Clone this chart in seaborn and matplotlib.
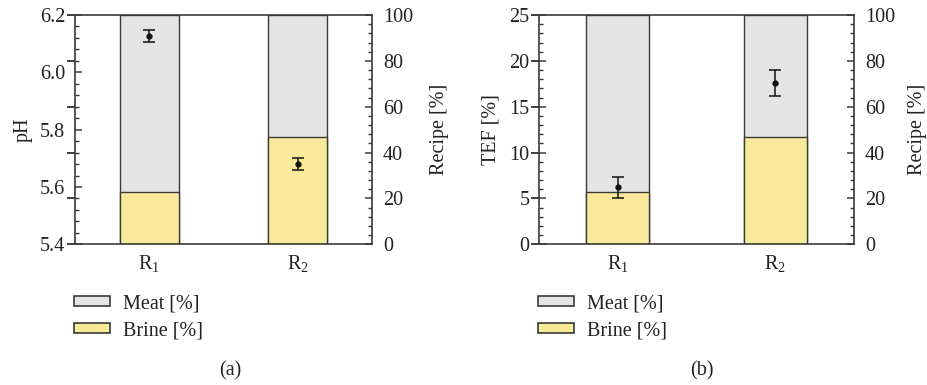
import matplotlib
matplotlib.use("Agg")
import matplotlib.pyplot as plt
import seaborn as sns
import pandas as pd
from matplotlib.ticker import MultipleLocator
from matplotlib.patches import Patch

sns.set_theme(style="white")
plt.rcParams['font.family'] = ['Liberation Serif', 'DejaVu Serif']
plt.rcParams['mathtext.fontset'] = 'custom'
plt.rcParams['mathtext.rm'] = 'Liberation Serif'

# ---- data ----
recipes = ["R1", "R2"]
recipe_labels = [r"$\mathregular{R_1}$", r"$\mathregular{R_2}$"]
brine_pct = [22.7, 46.7]
meat_pct = [77.3, 53.3]
ph_mean = [6.127, 5.679]
ph_err = [0.021, 0.021]
tef_mean = [6.2, 17.6]
tef_err = [1.12, 1.45]

MEAT_C = "#e3e4e3"
BRINE_C = "#fae99b"
EDGE_C = "#3a3a3a"
TXT_C = "#222222"
FS = 14.5

fig = plt.figure(figsize=(9.28, 3.85), dpi=100)

df = pd.DataFrame({"recipe": recipes, "meat": meat_pct, "brine": brine_pct})
df["total"] = df["meat"] + df["brine"]


def panel(rect, mean, err, ylim, ymajor, yminor, ylabel, fmt, rpad, rlpad, lpad, llpad):
    ax = fig.add_axes(rect)
    ax2 = ax.twinx()
    sns.barplot(data=df, x="recipe", y="total", color=MEAT_C, width=0.4,
                edgecolor=EDGE_C, linewidth=1.0, saturation=1, ax=ax)
    sns.barplot(data=df, x="recipe", y="brine", color=BRINE_C, width=0.4,
                edgecolor=EDGE_C, linewidth=1.0, saturation=1, ax=ax)
    ax.set_xlim(-0.5, 1.5)
    ax.set_ylim(0, 100)
    ax.set_xlabel("")
    ax.set_ylabel("")
    ax.set_xticks(range(len(recipes)))
    ax.set_xticklabels(recipe_labels, fontsize=FS, color=TXT_C)
    ax.tick_params(axis="x", length=0, pad=6)
    ax.tick_params(axis="y", which="both", right=False, left=False,
                   labelright=False, labelleft=False)
    for s in ax.spines.values():
        s.set_visible(True)
        s.set_color(EDGE_C)
        s.set_linewidth(1.2)

    # recipe scale on the right
    ax2.set_ylim(0, 100)
    ax2.set_ylabel("Recipe [%]", fontsize=FS, color=TXT_C, labelpad=rlpad)
    ax2.yaxis.set_major_locator(MultipleLocator(20))
    ax2.yaxis.set_minor_locator(MultipleLocator(4))
    ax2.tick_params(axis="y", which="both", direction="in", right=True, left=False,
                    labelsize=FS, labelcolor=TXT_C, color=EDGE_C, pad=rpad)
    ax2.tick_params(axis="y", which="major", length=5, width=1.1)
    ax2.tick_params(axis="y", which="minor", length=3, width=1.0)
    for s in ax2.spines.values():
        s.set_visible(False)

    # measurement axis on the left, drawn on top
    ax3 = ax.twinx()
    ax3.errorbar(range(len(recipes)), mean, yerr=err, fmt="o", color="#111111",
                 ms=3.5, capsize=4, elinewidth=1.1, capthick=1.1)
    ax3.set_ylim(*ylim)
    ax3.yaxis.tick_left()
    ax3.yaxis.set_label_position("left")
    ax3.set_ylabel(ylabel, fontsize=FS, color=TXT_C, labelpad=llpad)
    ax3.yaxis.set_major_locator(MultipleLocator(ymajor))
    ax3.yaxis.set_minor_locator(MultipleLocator(yminor))
    ax3.yaxis.set_major_formatter(fmt)
    ax3.tick_params(axis="y", which="both", direction="in", left=True, right=False,
                    labelleft=True, labelright=False,
                    labelsize=FS, labelcolor=TXT_C, color=EDGE_C, pad=lpad)
    ax3.tick_params(axis="y", which="major", length=5, width=1.1)
    ax3.tick_params(axis="y", which="minor", length=3, width=1.0)
    for s in ax3.spines.values():
        s.set_visible(False)
    return ax


panel([75 / 928, 1 - 244.3 / 385, 297 / 928, 229.3 / 385], ph_mean, ph_err,
      (5.4, 6.2), 0.2, 0.04, "pH", "{x:.1f}", rpad=8, rlpad=12, lpad=7, llpad=5)
panel([539 / 928, 1 - 244.3 / 385, 315 / 928, 229.3 / 385], tef_mean, tef_err,
      (0, 25), 5, 1, "TEF [%]", "{x:.0f}", rpad=8, rlpad=9, lpad=7, llpad=6)

handles = [Patch(facecolor=MEAT_C, edgecolor=EDGE_C, linewidth=1.2, label="Meat [%]"),
           Patch(facecolor=BRINE_C, edgecolor=EDGE_C, linewidth=1.2, label="Brine [%]")]
for x0 in (74 / 928, 538 / 928):
    fig.legend(handles=handles, loc="upper left", bbox_to_anchor=(x0, 1 - 294 / 385),
               frameon=False, fontsize=FS, handlelength=1.8, handleheight=0.35,
               handletextpad=0.65, labelspacing=0.42, borderaxespad=0, borderpad=0,
               labelcolor=TXT_C)

fig.text(230 / 928, 1 - 371 / 385, "(a)", ha="center", va="center", fontsize=FS, color=TXT_C)
fig.text(702 / 928, 1 - 371 / 385, "(b)", ha="center", va="center", fontsize=FS, color=TXT_C)

fig.savefig("out.png", dpi=100)
